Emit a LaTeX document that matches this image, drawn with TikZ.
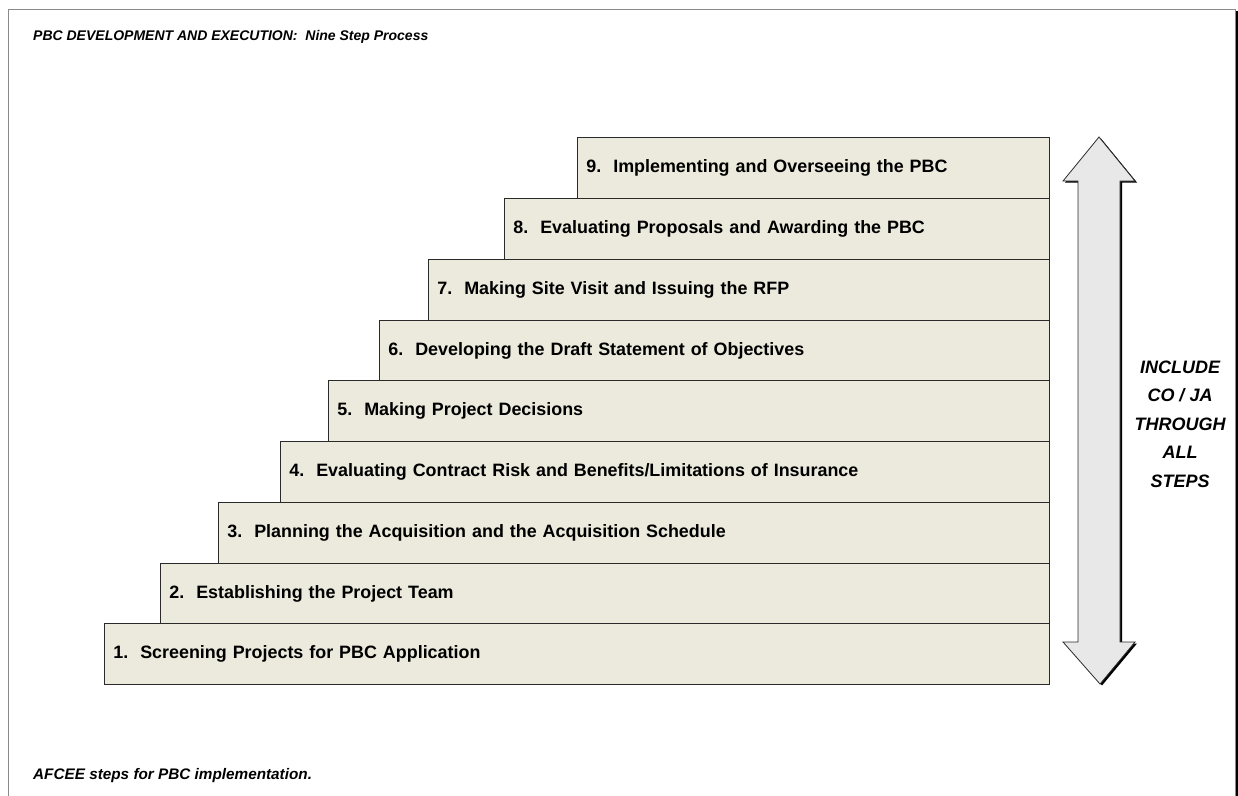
\documentclass[tikz,border=0pt]{standalone}
\usepackage{fontspec}
\setmainfont{Liberation Sans}
\begin{document}
\definecolor{stepfill}{HTML}{ECEADC}
\definecolor{stepline}{HTML}{2A2A2A}
\definecolor{arrowfill}{HTML}{E8E8E8}
\definecolor{framegray}{HTML}{8A8A8A}
\begin{tikzpicture}[x=1pt,y=-1pt,
  stepbox/.style={draw=stepline,fill=stepfill,line width=0.9pt,anchor=north west,
    inner xsep=9pt,inner ysep=0pt,align=left,
    font=\fontsize{17.9}{21}\selectfont\bfseries},
  caption/.style={anchor=west,inner sep=0pt,font=\fontsize{14}{17}\selectfont\bfseries\itshape},
  sidenote/.style={align=center,inner sep=0pt,font=\fontsize{18}{28.5}\selectfont\bfseries\itshape}]
\useasboundingbox (0,0) rectangle (1238,795);
% outer frame with its dark right-hand shadow
\fill[black] (1235.5,11) rectangle (1238.5,800);
\draw[framegray,line width=0.9pt] (8,800) -- (8,9) -- (1235,9) -- (1235,800);
% titles
\node[caption] (title) at (33,37) {PBC DEVELOPMENT AND EXECUTION:\ \ Nine Step Process};
\node[caption,font=\fontsize{15.3}{18}\selectfont\bfseries\itshape] (foot) at (33,776) {AFCEE steps for PBC implementation.};
% staircase of steps
\foreach \n/\x/\t/\b/\txt in {
  9/577/137/198/{9.\ \ Implementing and Overseeing the PBC},
  8/504/198/259/{8.\ \ Evaluating Proposals and Awarding the PBC},
  7/428/259/320/{7.\ \ Making Site Visit and Issuing the RFP},
  6/379/320/380/{6.\ \ Developing the Draft Statement of Objectives},
  5/328/380/441/{5.\ \ Making Project Decisions},
  4/280/441/502/{4.\ \ Evaluating Contract Risk and Benefits/Limitations of Insurance},
  3/218/502/563/{3.\ \ Planning the Acquisition and the Acquisition Schedule},
  2/160/563/623/{2.\ \ Establishing the Project Team},
  1/104/623/684/{1.\ \ Screening Projects for PBC Application}}{
  \pgfmathsetmacro{\w}{1049-\x}
  \pgfmathsetmacro{\h}{\b-\t}
  \node[stepbox,minimum height=\h pt,text width=\w pt-18pt] (s\n) at (\x,\t) {\txt};
}
% two-headed arrow spanning all steps
\def\arrowpath{(1099,137) -- (1135,181) -- (1120,181) -- (1120,642) -- (1135,642) -- (1100,684)
  -- (1063,642) -- (1078,642) -- (1078,181) -- (1063,181) -- cycle}
\fill[black] [shift={(2,1.5)}] \arrowpath;
\draw[fill=arrowfill,draw=stepline,line width=0.8pt,line join=miter] \arrowpath;
\node[sidenote] (note) at (1180,424) {INCLUDE\\CO / JA\\THROUGH\\ALL\\STEPS};
\end{tikzpicture}
\end{document}
